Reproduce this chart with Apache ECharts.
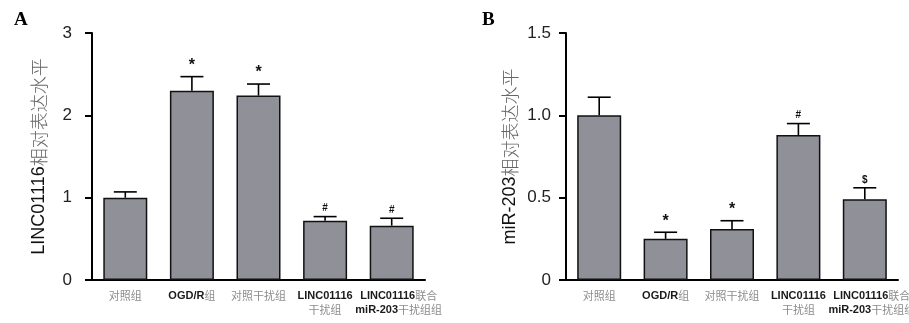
<!DOCTYPE html>
<html><head><meta charset="utf-8">
<script src="https://cdn.jsdelivr.net/npm/echarts@6/dist/echarts.min.js"></script>
<style>html,body{margin:0;padding:0;background:#fff}#c{width:909px;height:323px}</style>
</head><body><div id="c"></div>
<script>
const categories = ['对照组', 'OGD/R组', '对照干扰组', 'LINC01116\n干扰组', 'LINC01116联合\nmiR-203干扰组组'];
const linc01116Mean = [1.0, 2.30, 2.24, 0.72, 0.66];
const linc01116Upper = [1.07, 2.47, 2.38, 0.77, 0.75];
const linc01116Marks = ['', '*', '*', '#', '#'];
const mir203Mean = [1.0, 0.25, 0.31, 0.88, 0.49];
const mir203Upper = [1.11, 0.29, 0.36, 0.95, 0.56];
const mir203Marks = ['', '*', '*', '#', '$'];
const yTicksA = [0, 1, 2, 3];
const yTicksB = [0, 0.5, 1.0, 1.5];

const BAR = '#8f9098';
const chart = echarts.init(document.getElementById('c'));

function catFormatter(v) {
  return v.split('\n').map(line => {
    const parts = line.match(/[A-Za-z0-9\/\-]+|[^A-Za-z0-9\/\-]+/g) || [];
    return parts.map(p => /[A-Za-z0-9]/.test(p) ? '{lat|' + p + '}' : '{cjk|' + p + '}').join('');
  }).join('\n');
}
const catRich = {
  lat: {fontFamily: 'Arial, Liberation Sans', fontWeight: 'bold', fontSize: 11, color: '#1a1a1a', lineHeight: 14},
  cjk: {fontFamily: 'Noto Sans CJK SC', fontSize: 11, color: '#8c8c8c', lineHeight: 14}
};

function catData() {
  return categories.map((c, i) => i === categories.length - 1
    ? {value: c, textStyle: {padding: [0, 0, 0, 14]}}
    : c);
}

function xAxis(gi) {
  return {
    type: 'category', gridIndex: gi, data: catData(),
    axisLine: {lineStyle: {color: '#000', width: 2}},
    axisTick: {alignWithLabel: true, length: 6, lineStyle: {color: '#000', width: 2}},
    axisLabel: {formatter: catFormatter, rich: catRich, margin: 9, interval: 0}
  };
}
function yAxis(gi, max, interval, latPart, fmt, margin, gap) {
  return {
    type: 'value', gridIndex: gi, min: 0, max: max, interval: interval,
    name: '{lat|' + latPart + '}{cjk|相对表达水平}',
    nameLocation: 'middle', nameGap: gap, nameRotate: 90,
    nameTextStyle: {
      rich: {
        lat: {fontFamily: 'Arial, Liberation Sans', fontSize: 18, color: '#111'},
        cjk: {fontFamily: 'Noto Sans CJK SC', fontSize: 18, color: '#666', fontWeight: 300}
      }
    },
    axisLine: {show: true, lineStyle: {color: '#000', width: 2}},
    axisTick: {show: true, length: 7, lineStyle: {color: '#000', width: 2}},
    splitLine: {show: false},
    axisLabel: {fontFamily: 'Arial, Liberation Sans', fontSize: 17, color: '#222', margin: margin, formatter: fmt}
  };
}

function errSeries(gi, mean, upper, marks) {
  return {
    type: 'custom', xAxisIndex: gi, yAxisIndex: gi, z: 5,
    data: mean.map((m, i) => [i, m, upper[i]]),
    renderItem: function (params, api) {
      const i = params.dataIndex;
      const p0 = api.coord([api.value(0), api.value(1)]);
      const p1 = api.coord([api.value(0), api.value(2)]);
      const half = 11.5;
      const ls = {stroke: '#000', lineWidth: 1.6};
      const children = [
        {type: 'line', shape: {x1: p0[0], y1: p0[1], x2: p1[0], y2: p1[1]}, style: ls},
        {type: 'line', shape: {x1: p1[0] - half, y1: p1[1], x2: p1[0] + half, y2: p1[1]}, style: ls}
      ];
      if (marks[i]) {
        children.push({type: 'text', style: {
          text: marks[i], x: p1[0], y: p1[1] - 3, align: 'center', verticalAlign: 'bottom',
          fontFamily: 'Arial, Liberation Sans', fontWeight: 'bold',
          fontSize: marks[i] === '*' ? 16 : 10, fill: '#111'
        }});
      }
      return {type: 'group', children: children};
    }
  };
}

function barSeries(gi, mean) {
  return {
    type: 'bar', xAxisIndex: gi, yAxisIndex: gi, data: mean, barWidth: 44,
    itemStyle: {color: BAR, borderColor: '#111', borderWidth: 1.5}
  };
}

chart.setOption({
  animation: false,
  backgroundColor: '#fff',
  title: [
    {text: 'A', left: 9, top: 6, textStyle: {fontFamily: 'Liberation Serif, DejaVu Serif', fontWeight: 'bold', fontSize: 19, color: '#000'}},
    {text: 'B', left: 477, top: 6, textStyle: {fontFamily: 'Liberation Serif, DejaVu Serif', fontWeight: 'bold', fontSize: 19, color: '#000'}}
  ],
  grid: [
    {left: 92, right: 484, top: 33, bottom: 43, outerBoundsMode: 'none', containLabel: false},
    {left: 566, right: 11, top: 33, bottom: 43, outerBoundsMode: 'none', containLabel: false}
  ],
  xAxis: [xAxis(0), xAxis(1)],
  yAxis: [
    yAxis(0, yTicksA[yTicksA.length - 1], yTicksA[1] - yTicksA[0], 'LINC01116', v => String(v), 20, 44),
    yAxis(1, yTicksB[yTicksB.length - 1], yTicksB[1] - yTicksB[0], 'miR-203', v => v === 0 ? '0' : v.toFixed(1), 15, 47)
  ],
  series: [
    barSeries(0, linc01116Mean), errSeries(0, linc01116Mean, linc01116Upper, linc01116Marks),
    barSeries(1, mir203Mean), errSeries(1, mir203Mean, mir203Upper, mir203Marks)
  ]
});
</script></body></html>
